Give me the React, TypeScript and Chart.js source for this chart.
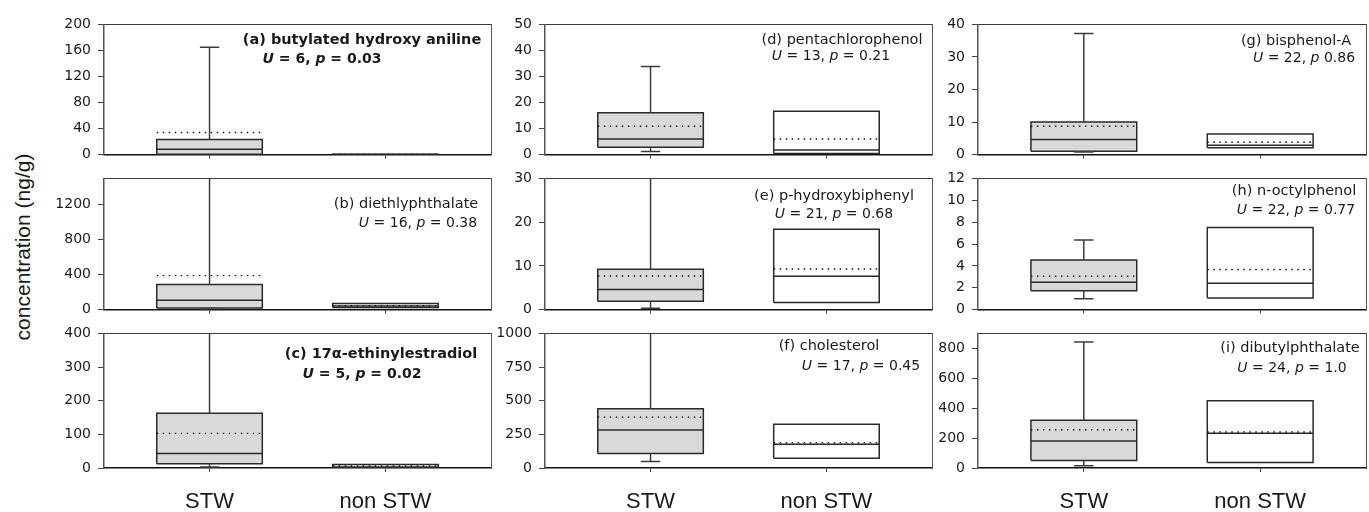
import React, { useEffect, useRef } from 'react';
import { Chart, registerables } from 'chart.js';

Chart.register(...registerables);

// ---------- data ----------
const categories = ['STW', 'non STW'];
const panelLetters = ['a', 'b', 'c', 'd', 'e', 'f', 'g', 'h', 'i'];
const compounds = [
  'butylated hydroxy aniline',
  'diethlyphthalate',
  '17\u03B1-ethinylestradiol',
  'pentachlorophenol',
  'p-hydroxybiphenyl',
  'cholesterol',
  'bisphenol-A',
  'n-octylphenol',
  'dibutylphthalate',
];
const uValues = [6, 16, 5, 13, 21, 17, 22, 22, 24];
const pRelation = ['=', '=', '=', '=', '=', '=', '', '=', '='];
const pValues = ['0.03', '0.38', '0.02', '0.21', '0.68', '0.45', '0.86', '0.77', '1.0'];
const significant = [true, false, true, false, false, false, false, false, false];

const yMaxValues = [200, 1500, 400, 50, 30, 1000, 40, 12, 900];
const yTicks = [
  [0, 40, 80, 120, 160, 200],
  [0, 400, 800, 1200],
  [0, 100, 200, 300, 400],
  [0, 10, 20, 30, 40, 50],
  [0, 10, 20, 30],
  [0, 250, 500, 750, 1000],
  [0, 10, 20, 30, 40],
  [0, 2, 4, 6, 8, 10, 12],
  [0, 200, 400, 600, 800],
];

// STW sites
const stwMin = [null, 5, 3, 1.2, 0.3, 48, 0.8, 1.0, 15];
const stwQ1 = [0.5, 17, 13, 2.8, 1.9, 108, 1.0, 1.73, 50];
const stwMedian = [8.1, 108, 43, 6.0, 4.6, 282, 4.65, 2.51, 180];
const stwMean = [33.9, 389, 103, 10.9, 7.7, 378, 8.7, 3.06, 256];
const stwQ3 = [23.2, 288, 163, 16.1, 9.2, 441, 10.0, 4.54, 320];
const stwMax = [165, 1650, 420, 33.8, 32, 1050, 37.2, 6.36, 842];

// non STW sites
const nonMin = [null, null, null, null, null, null, null, null, null];
const nonQ1 = [0, 25, 1, 0.4, 1.6, 72, 2.1, 1.07, 37];
const nonMedian = [0.2, 40, 3, 1.8, 7.6, 176, 2.9, 2.4, 232];
const nonMean = [0.3, 46, 6, 6.0, 9.3, 188, 3.8, 3.67, 241];
const nonQ3 = [0.6, 71, 10.4, 16.6, 18.4, 325, 6.3, 7.5, 450];
const nonMax = [null, null, null, null, null, null, null, null, null];

// ---------- layout & style ----------
const colLeft = [104, 545, 978];
const colRight = [491, 932, 1366];
const rowTop = [21, 175, 330];
const rowBottom = [158, 313, 468];
const Y_AXIS_W = 64;
const PAD_TOP = 12;
const PAD_RIGHT = 3;
const PAGE_H = 512;
const BOX_HALF = 0.3;
const CAP_HALF = 0.055;
const X_MIN = -0.6;
const X_MAX = 1.6;

const STW_FILL = '#d9d9d9';
const NON_FILL = '#ffffff';
const EDGE = '#2a2a2a';
const WHISKER = '#3c3c3c';
const TEXT = '#1a1a1a';

// annotation line centres (x centre, y centre) in page pixels
const annoLine1 = [[362, 39], [406, 203], [381, 353], [842, 39], [834, 195], [829, 345], [1296, 40], [1294, 190], [1290, 347]];
const annoLine2 = [[322, 58], [418, 222], [362, 373], [831, 55], [834, 213], [861, 365], [1304, 57], [1296, 209], [1292, 367]];

function buildDatasets(p: number) {
  const groups = [
    { min: stwMin[p], q1: stwQ1[p], med: stwMedian[p], mean: stwMean[p], q3: stwQ3[p], max: stwMax[p], fill: STW_FILL },
    { min: nonMin[p], q1: nonQ1[p], med: nonMedian[p], mean: nonMean[p], q3: nonQ3[p], max: nonMax[p], fill: NON_FILL },
  ];
  const ds: any[] = [];
  groups.forEach((g, c) => {
    const L = c - BOX_HALF;
    const R = c + BOX_HALF;
    ds.push({
      data: [{ x: L, y: g.q1 }, { x: R, y: g.q1 }, { x: R, y: g.q3 }, { x: L, y: g.q3 }, { x: L, y: g.q1 }],
      fill: 'shape',
      backgroundColor: g.fill,
      borderColor: EDGE,
      borderWidth: 1.5,
      borderJoinStyle: 'miter',
      order: 3,
    });
    if (g.max != null) {
      ds.push({
        data: [{ x: c, y: g.q3 }, { x: c, y: g.max }, { x: c - CAP_HALF, y: g.max }, { x: c + CAP_HALF, y: g.max }],
        borderColor: WHISKER,
        borderWidth: 1.5,
        order: 2,
      });
    }
    if (g.min != null) {
      ds.push({
        data: [{ x: c, y: g.q1 }, { x: c, y: g.min }, { x: c - CAP_HALF, y: g.min }, { x: c + CAP_HALF, y: g.min }],
        borderColor: WHISKER,
        borderWidth: 1.5,
        order: 2,
      });
    }
    ds.push({
      data: [{ x: L, y: g.med }, { x: R, y: g.med }],
      borderColor: EDGE,
      borderWidth: 1.5,
      order: 1,
    });
    ds.push({
      data: [{ x: L, y: g.mean }, { x: R, y: g.mean }],
      borderColor: '#111111',
      borderWidth: 1.4,
      borderDash: [1.5, 4.5],
      order: 0,
    });
  });
  return ds.map((d) => ({
    type: 'line',
    xAxisID: 'x',
    yAxisID: 'y',
    pointRadius: 0,
    pointHoverRadius: 0,
    tension: 0,
    fill: false,
    ...d,
  }));
}

function Panel({ p }: { p: number }) {
  const ref = useRef<HTMLCanvasElement | null>(null);
  const col = Math.floor(p / 3);
  const row = p % 3;
  const isBottom = row === 2;
  const xAxisH = isBottom ? PAGE_H - rowBottom[row] : 12;
  const left = colLeft[col] - Y_AXIS_W;
  const top = rowTop[row] - PAD_TOP;
  const width = Y_AXIS_W + (colRight[col] - colLeft[col]) + PAD_RIGHT;
  const height = PAD_TOP + (rowBottom[row] - rowTop[row]) + xAxisH;

  useEffect(() => {
    if (!ref.current) return;
    const chart = new Chart(ref.current, {
      type: 'line',
      data: { datasets: buildDatasets(p) as any },
      options: {
        responsive: false,
        animation: false,
        devicePixelRatio: 1,
        events: [],
        layout: { padding: { top: PAD_TOP, right: PAD_RIGHT, left: 0, bottom: 0 } },
        plugins: { legend: { display: false }, tooltip: { enabled: false } },
        scales: {
          x: {
            type: 'linear',
            position: 'bottom',
            min: X_MIN,
            max: X_MAX,
            afterBuildTicks: (s: any) => {
              s.ticks = categories.map((_, i) => ({ value: i }));
            },
            afterFit: (s: any) => {
              s.height = xAxisH;
            },
            ticks: {
              display: isBottom,
              autoSkip: false,
              maxRotation: 0,
              padding: 17,
              color: TEXT,
              font: { family: '"Liberation Sans", Arial, sans-serif', size: 22 },
              callback: (v: any) => categories[Math.round(Number(v))] ?? '',
            },
            grid: { display: true, drawOnChartArea: false, drawTicks: true, tickLength: 4, color: '#444', lineWidth: 1 },
            border: { display: true, color: '#111', width: 1.5 },
          },
          xTop: {
            type: 'linear',
            position: 'top',
            min: X_MIN,
            max: X_MAX,
            afterFit: (s: any) => {
              s.height = 0;
            },
            ticks: { display: false },
            grid: { display: false, drawTicks: false },
            border: { display: true, color: '#3a3a3a', width: 1 },
          },
          y: {
            type: 'linear',
            position: 'left',
            min: 0,
            max: yMaxValues[p],
            afterBuildTicks: (s: any) => {
              s.ticks = yTicks[p].map((v) => ({ value: v }));
            },
            afterFit: (s: any) => {
              s.width = Y_AXIS_W;
            },
            ticks: {
              padding: 7,
              color: TEXT,
              font: { family: '"DejaVu Sans", sans-serif', size: 14 },
              callback: (v: any) => String(v),
            },
            grid: { display: true, drawOnChartArea: false, drawTicks: true, tickLength: 6, color: '#444', lineWidth: 1 },
            border: { display: true, color: '#555', width: 1.5 },
          },
          yRight: {
            type: 'linear',
            position: 'right',
            min: 0,
            max: yMaxValues[p],
            afterFit: (s: any) => {
              s.width = 0;
            },
            ticks: { display: false },
            grid: { display: false, drawTicks: false },
            border: { display: true, color: '#555', width: 1 },
          },
        },
      } as any,
    });
    return () => chart.destroy();
  }, [p]);

  return (
    <canvas
      ref={ref}
      width={width}
      height={height}
      style={{ position: 'absolute', left, top, width, height }}
    />
  );
}

function Annotation({ p }: { p: number }) {
  const bold = significant[p];
  const base: React.CSSProperties = {
    position: 'absolute',
    whiteSpace: 'nowrap',
    fontFamily: '"DejaVu Sans", sans-serif',
    lineHeight: '18px',
    fontWeight: bold ? 700 : 400,
    color: TEXT,
    transform: 'translateX(-50%)',
  };
  const [x1, y1] = annoLine1[p];
  const [x2, y2] = annoLine2[p];
  return (
    <>
      <div style={{ ...base, fontSize: 14.5, left: x1, top: y1 - 9 }}>
        ({panelLetters[p]}) {compounds[p]}
      </div>
      <div style={{ ...base, fontSize: 14, left: x2, top: y2 - 9 }}>
        <i>U</i> = {uValues[p]}, <i>p</i> {pRelation[p] ? pRelation[p] + ' ' : ''}{pValues[p]}
      </div>
    </>
  );
}

export default function App() {
  const idx = panelLetters.map((_, i) => i);
  return (
    <div style={{ position: 'absolute', left: 0, top: 0, width: 1369, height: 512, background: '#fff', overflow: 'hidden' }}>
      {idx.map((p) => (
        <Panel key={'c' + p} p={p} />
      ))}
      {idx.map((p) => (
        <Annotation key={'a' + p} p={p} />
      ))}
      <div
        style={{
          position: 'absolute',
          left: 23,
          top: 247,
          transform: 'translate(-50%, -50%) rotate(-90deg)',
          whiteSpace: 'nowrap',
          fontFamily: '"Liberation Sans", Arial, sans-serif',
          fontSize: 21,
          color: TEXT,
        }}
      >
        concentration (ng/g)
      </div>
    </div>
  );
}
